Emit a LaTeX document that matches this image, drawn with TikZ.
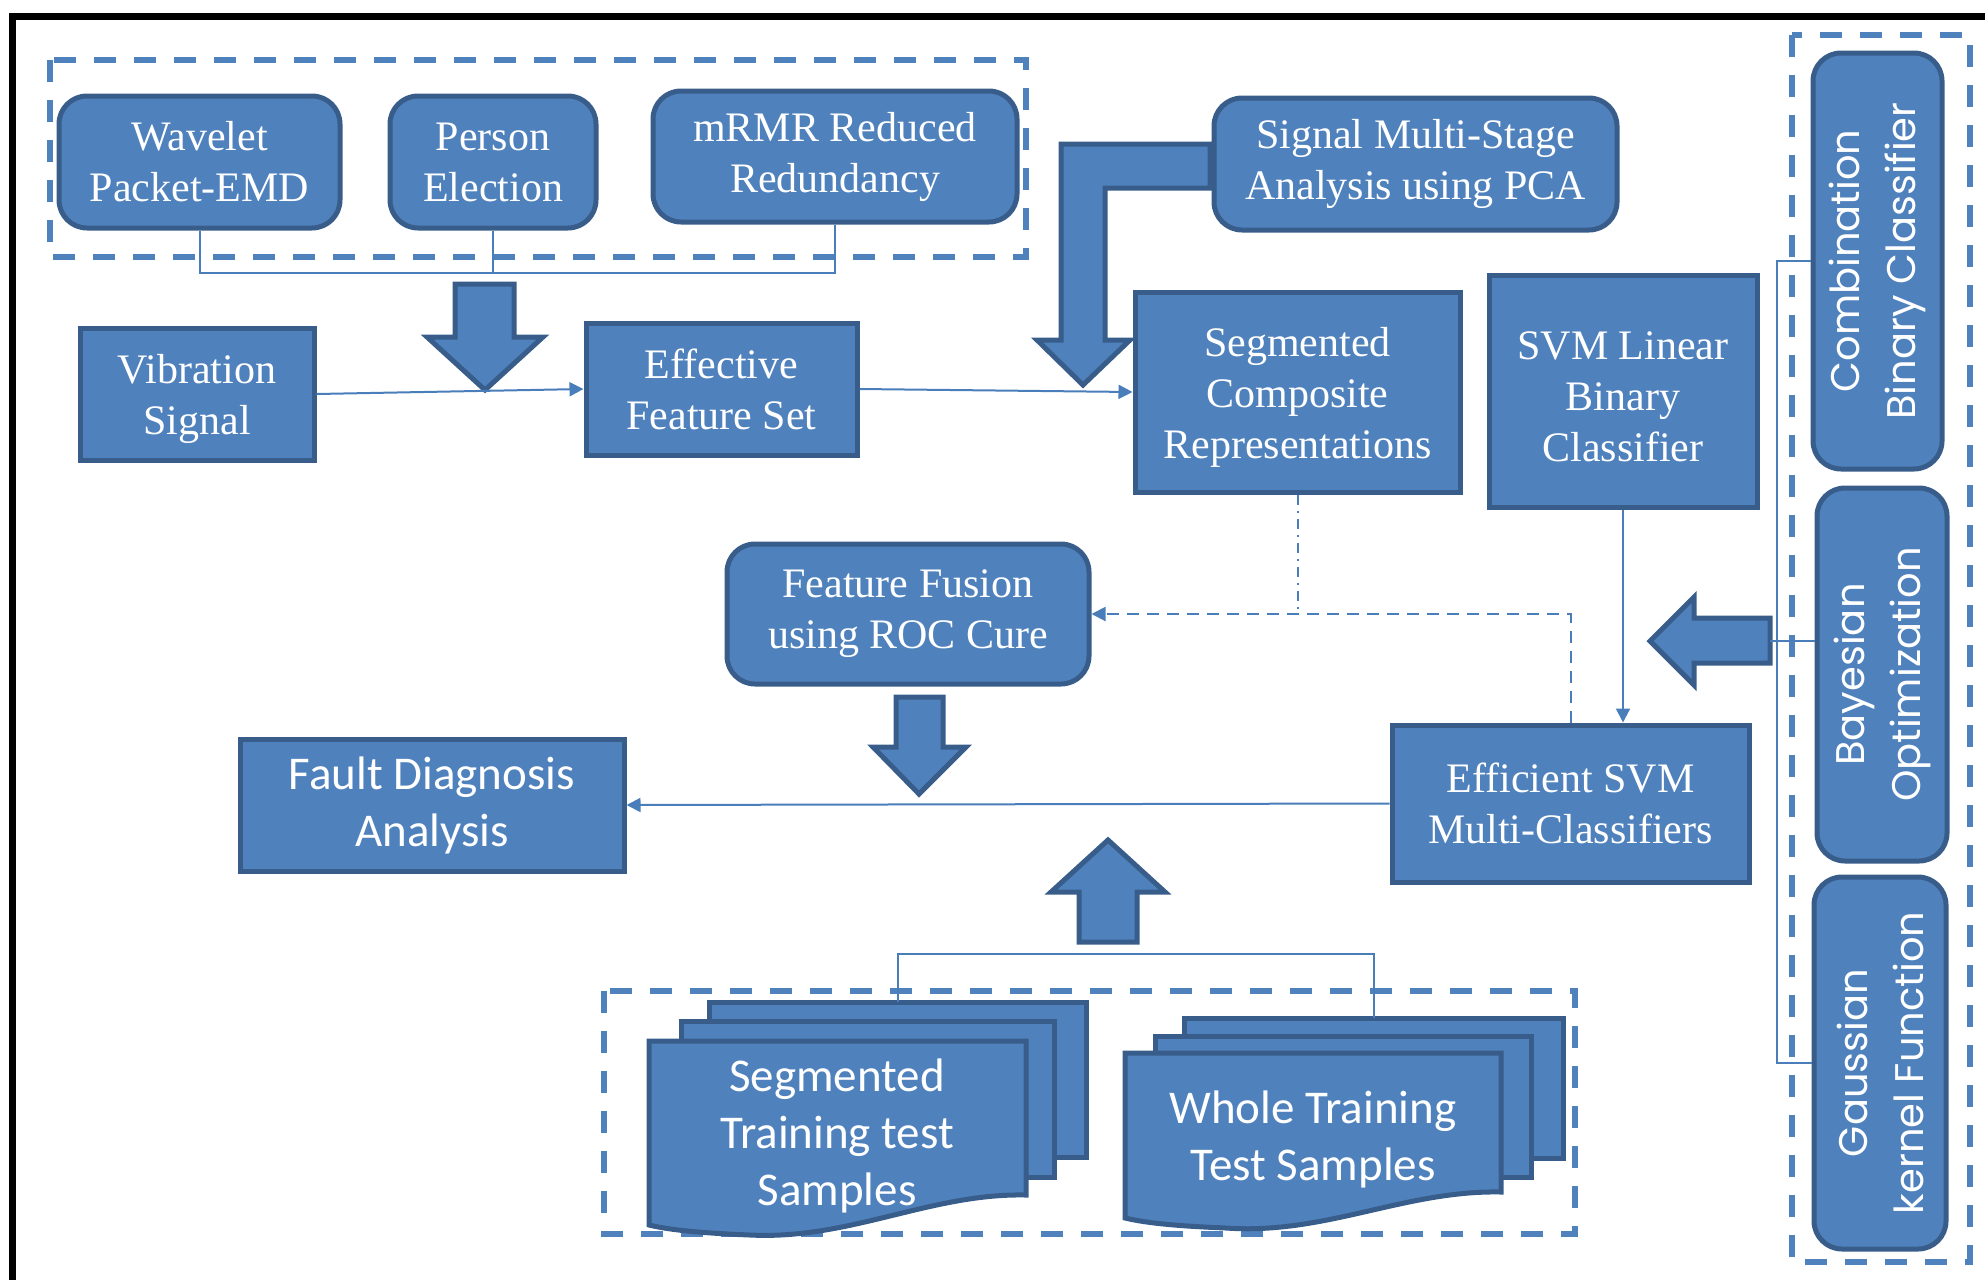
\documentclass[tikz,border=0pt]{standalone}
\usepackage{fontspec}
\setmainfont{Liberation Serif}
\newfontfamily\calib{Carlito}
\newfontfamily\gothic{Poppins}
\usetikzlibrary{arrows.meta}
\definecolor{boxfill}{HTML}{4F81BD}
\definecolor{boxline}{HTML}{385D8A}
\definecolor{connline}{HTML}{4A7EBB}

\begin{document}
\begin{tikzpicture}[x=0.5pt,y=0.5pt,yscale=-1,xscale=1,
	blk/.style={draw=boxline, fill=boxfill, line width=2.5pt, text=white, align=center, inner sep=0pt},
	rblk/.style={blk, rounded corners=14pt},
	tnr/.style={font=\fontsize{21}{25.5}\selectfont},
	cal/.style={font=\calib\fontsize{23.5}{28.5}\selectfont},
	vert/.style={rotate=90, font=\gothic\fontsize{20}{28}\selectfont},
	grp/.style={draw=boxfill, line width=3pt, dash pattern=on 11pt off 9pt},
	conn/.style={draw=connline, line width=1pt},
	tip/.style={-{Triangle[length=7pt,width=7pt]}},
	fat/.style={draw=boxline, fill=boxfill, line width=2.5pt, line join=miter}]
				\useasboundingbox (0,0) rectangle (1985,1280);

				%Frame
				\draw [line width=3.5pt] (12,1280) -- (12,16) -- (1985,16) ;

				%Dashed groups
				\draw [grp] (50,60) rectangle (1026,257) ;
				\draw [grp] (1792,35) rectangle (1970,1262) ;
				\draw [grp] (604,991) rectangle (1575,1234) ;

				% Text Node
				\node [rblk, tnr, minimum width=140.5pt, minimum height=66pt] (wav) at (199.5,162) {Wavelet\\Packet-EMD};
				% Text Node
				\node [rblk, tnr, minimum width=103pt, minimum height=66pt] (per) at (493,162) {Person\\Election};
				% Text Node
				\node [rblk, tnr, minimum width=182pt, minimum height=65.5pt] (mrmr) at (835,156.5) {mRMR Reduced\\Redundancy};
				% Text Node
				\node [rblk, tnr, minimum width=201.5pt, minimum height=66pt] (pca) at (1415.5,164) {Signal Multi-Stage\\Analysis using PCA};
				% Text Node
				\node [blk, tnr, minimum width=117pt, minimum height=66pt] (vib) at (197,394) {\\[-6pt]Vibration\\Signal};
				% Text Node
				\node [blk, tnr, minimum width=135.5pt, minimum height=66pt] (eff) at (721.5,389) {Effective\\Feature Set};
				% Text Node
				\node [blk, tnr, minimum width=162.5pt, minimum height=100pt] (seg) at (1297.5,392) {\\[-6pt]Segmented\\Composite\\Representations};
				% Text Node
				\node [blk, tnr, minimum width=134pt, minimum height=116pt] (lin) at (1623,391) {\\[-6pt]SVM Linear\\Binary\\Classifier};
				% Text Node
				\node [rblk, tnr, minimum width=181pt, minimum height=70pt] (fus) at (908,614) {Feature Fusion\\using ROC Cure};
				% Text Node
				\node [blk, cal, minimum width=192pt, minimum height=66pt] (fault) at (432,805) {Fault Diagnosis\\Analysis};
				% Text Node
				\node [blk, tnr, minimum width=178.5pt, minimum height=78.5pt] (esvm) at (1570.5,803.5) {Efficient SVM\\Multi-Classifiers};
				% Text Node
				\node [rblk, vert, minimum width=208pt, minimum height=64.5pt] (comb) at (1877.5,261) {Combination\\Binary Classifier};
				% Text Node
				\node [rblk, vert, minimum width=186.5pt, minimum height=65pt] (bay) at (1882,674.5) {Bayesian\\Optimization};
				% Text Node
				\node [rblk, vert, minimum width=186pt, minimum height=66pt] (gau) at (1880,1063) {Gaussian\\kernel Function};

				%Shape: Document stacks
				\draw [fat] (709,1002) rectangle (1086,1157) ;
				\draw [fat] (681,1021) rectangle (1054,1177) ;
				\draw [fat] (649,1041) -- (1026,1041) -- (1026,1195) .. controls (930,1193) and (850,1240) .. (750,1235) .. controls (700,1233) and (670,1230) .. (649,1225) -- cycle ;
				\draw [fat] (1184,1018) rectangle (1563,1158) ;
				\draw [fat] (1155,1036) rectangle (1531,1177) ;
				\draw [fat] (1125,1053) -- (1501,1053) -- (1501,1192) .. controls (1405,1190) and (1325,1235) .. (1226,1228) .. controls (1176,1226) and (1146,1223) .. (1125,1218) -- cycle ;
				% Text Node
				\node [cal, text=white, align=center] (segdoc) at (837,1136) {Segmented\\Training test\\Samples};
				% Text Node
				\node [cal, text=white, align=center] (wholedoc) at (1313,1139) {Whole Training\\Test Samples};

				%Block Arrows
				\draw [fat] (455,284) -- (514,284) -- (514,337) -- (543,337) -- (485,390) -- (427,337) -- (455,337) -- cycle ;
				\draw [fat] (1210,144) -- (1061,144) -- (1061,340) -- (1037,340) -- (1083,385) -- (1130,340) -- (1105,340) -- (1105,188) -- (1210,188) -- cycle ;
				\draw [fat] (1770,618) -- (1694,618) -- (1694,597) -- (1650,641) -- (1694,685) -- (1694,663) -- (1770,663) -- cycle ;
				\draw [fat] (896,697) -- (943,697) -- (943,747) -- (966,747) -- (919,794) -- (873,747) -- (896,747) -- cycle ;
				\draw [fat] (1079,942) -- (1137,942) -- (1137,892) -- (1165,892) -- (1108,840) -- (1051,892) -- (1079,892) -- cycle ;

				%Brackets
				\coordinate (topjoin) at (493,273);
				\draw [conn] (wav.south) |- (topjoin) -| (mrmr.south) ;
				\draw [conn] (per.south) -- (topjoin) ;
				\coordinate (segtop) at (897.5,1002);
				\coordinate (wholetop) at (1373.5,1018);
				\draw [conn] (segtop) -- ++(0,-48) -| (wholetop) ;
				\coordinate (brk) at (1777,641);
				\coordinate (larrow) at (1770,641);
				\draw [conn] (comb.north) -| (brk) |- (gau.north) ;
				\draw [conn] (larrow) -- (larrow -| bay.north) ;

				%Connectors
				\draw [conn, tip] (vib.east) -- (eff.west) ;
				\draw [conn, tip] (eff.east) -- (seg.west) ;
				\draw [conn, tip] (lin.south) -- (lin.south |- esvm.north) ;
				\draw [conn, tip] (esvm.west) -- (fault.east) ;
				\draw [conn, tip, dash pattern=on 6pt off 4pt] (esvm.north) |- (fus.east) ;
				\draw [conn, dash pattern=on 5pt off 3pt on 1pt off 3pt] (seg.south) -- (seg.south |- fus.east) ;

\end{tikzpicture}
\end{document}
